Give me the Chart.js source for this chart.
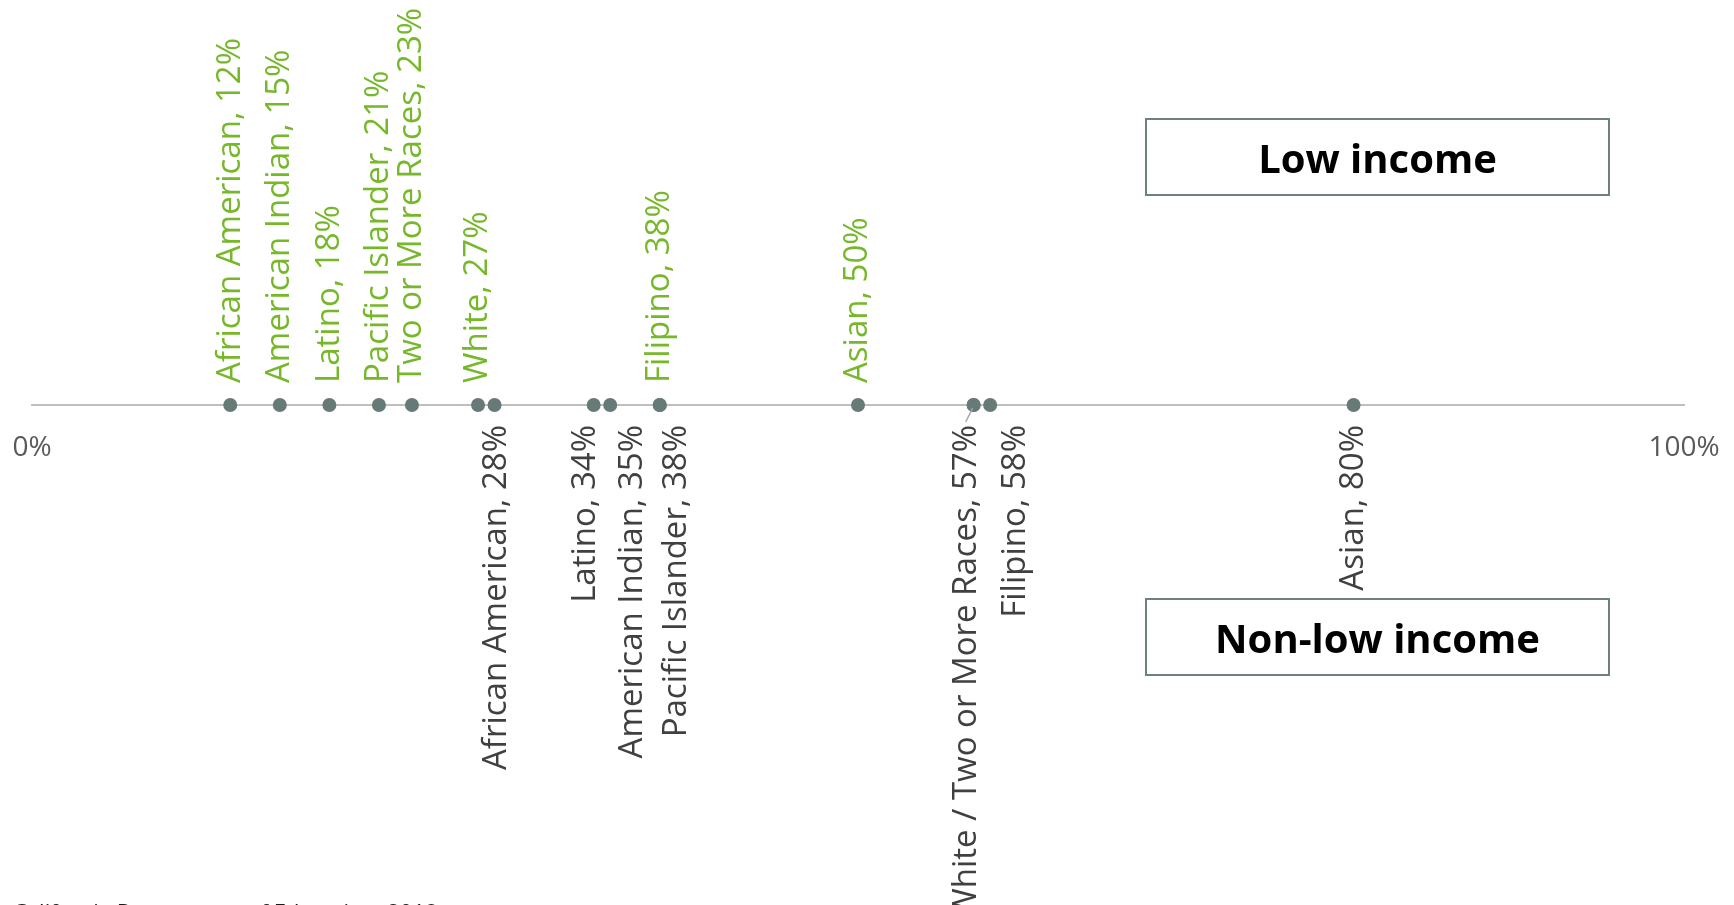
<!DOCTYPE html>
<html>
<head>
<meta charset="utf-8">
<script src="https://cdn.jsdelivr.net/npm/chart.js@4/dist/chart.umd.min.js"></script>
<style>
    html, body { margin: 0; padding: 0; background: #fff; overflow: hidden; }
    #wrap { position: relative; width: 1734px; height: 905px; }
    .tag-box {
        position: absolute;
        left: 1145px;
        width: 461px;
        height: 74px;
        border: 2px solid #6f817f;
        display: flex;
        align-items: center;
        justify-content: center;
        font: bold 40px "Open Sans", sans-serif;
        color: #000;
    }
    #source {
        position: absolute;
        left: 13px;
        top: 896px;
        font: 22px "Open Sans", sans-serif;
        color: #1a1a1a;
        white-space: nowrap;
    }
</style>
</head>
<body>
<div id="wrap">
    <canvas id="gapChart"></canvas>
    <div class="tag-box" style="top:118px;">Low income</div>
    <div class="tag-box" style="top:598px;">Non-low income</div>
    <div id="source">California Department of Education, 2018</div>
</div>
<script>
// share of students meeting the standard, by group
const groups = ['African American', 'American Indian', 'Latino', 'Pacific Islander',
    'Two or More Races', 'White', 'Filipino', 'Asian'];
const lowIncome = [12, 15, 18, 21, 23, 27, 38, 50];
const nonLowIncome = [28, 35, 34, 38, 57, 57, 58, 80];
// White and Two or More Races share one label below the line
const nonLowNames = ['African American', 'American Indian', 'Latino', 'Pacific Islander',
    null, 'White / Two or More Races', 'Filipino', 'Asian'];
const axisTicks = [0, 100];

// sideways nudges so the lower labels do not collide
const nonLowShift = [2, 22, -8, 17, 0, -7, 25, 0];
const withLeader = [false, false, false, false, false, true, false, false];

const GREEN = '#76b82a';
const GREY_TEXT = '#404040';
const DOT = '#667a78';

const pointLabels = {
    id: 'pointLabels',
    afterDatasetsDraw(chart) {
        const ctx = chart.ctx;
        ctx.save();
        ctx.font = '33px "Open Sans", sans-serif';
        ctx.textBaseline = 'middle';

        chart.getDatasetMeta(0).data.forEach((pt, i) => {
            ctx.save();
            ctx.translate(pt.x, pt.y - 22);
            ctx.rotate(-Math.PI / 2);
            ctx.textAlign = 'left';
            ctx.fillStyle = GREEN;
            ctx.fillText(`${groups[i]}, ${lowIncome[i]}%`, 0, 0);
            ctx.restore();
        });

        chart.getDatasetMeta(1).data.forEach((pt, i) => {
            if (!nonLowNames[i]) return;
            const lx = pt.x + nonLowShift[i];
            if (withLeader[i]) {
                ctx.strokeStyle = '#a6a6a6';
                ctx.lineWidth = 1.5;
                ctx.beginPath();
                ctx.moveTo(pt.x - 1, pt.y + 3);
                ctx.lineTo(lx - 1, pt.y + 17);
                ctx.stroke();
            }
            ctx.save();
            ctx.translate(lx, pt.y + 20);
            ctx.rotate(-Math.PI / 2);
            ctx.textAlign = 'right';
            ctx.fillStyle = GREY_TEXT;
            ctx.fillText(`${nonLowNames[i]}, ${nonLowIncome[i]}%`, 0, 0);
            ctx.restore();
        });
        ctx.restore();
    }
};

const toPoints = values => values.map(v => ({ x: v, y: 0 }));

new Chart(document.getElementById('gapChart'), {
    type: 'scatter',
    data: {
        datasets: [
            { label: 'Low income', data: toPoints(lowIncome) },
            { label: 'Non-low income', data: toPoints(nonLowIncome) }
        ]
    },
    options: {
        responsive: true,
        maintainAspectRatio: false,
        animation: false,
        layout: { padding: { left: 32, right: 50, top: 0, bottom: 102 } },
        elements: {
            point: { radius: 7, hoverRadius: 7, backgroundColor: DOT, borderColor: DOT, borderWidth: 0 }
        },
        plugins: { legend: { display: false }, tooltip: { enabled: false } },
        scales: {
            x: {
                type: 'linear',
                min: 0,
                max: 100,
                position: { y: 0 },
                afterBuildTicks: scale => { scale.ticks = axisTicks.map(v => ({ value: v })); },
                // end labels may hang into the page margin
                afterFit: scale => { scale.paddingLeft = 0; scale.paddingRight = 0; },
                grid: { display: false },
                border: { display: true, color: '#bfbfbf', width: 2 },
                ticks: {
                    padding: 18,
                    color: '#595959',
                    font: { family: 'Open Sans', size: 28 },
                    maxRotation: 0,
                    callback: v => v + '%'
                }
            },
            y: { type: 'linear', min: -1, max: 1, display: false }
        }
    },
    plugins: [pointLabels]
});

document.getElementById('gapChart').parentNode.style.height = '905px';
</script>
</body>
</html>
